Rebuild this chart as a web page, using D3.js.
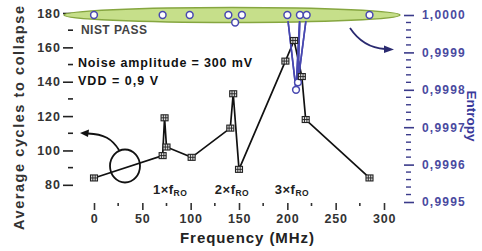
<!DOCTYPE html>
<html><head><meta charset="utf-8">
<script src="https://cdn.jsdelivr.net/npm/d3@7"></script>
<style>
html,body{margin:0;padding:0;background:#fff;}
svg{display:block;font-family:Arial,"Liberation Sans",sans-serif;font-weight:bold;}
</style></head>
<body>
<svg id="chart" width="482" height="251"></svg>
<script>
// ---- data ----
const freqCycles = [0, 71, 73, 75, 101, 141, 144, 150, 198, 207, 215, 219, 285];
const avgCycles  = [84, 97, 119, 102, 96, 113, 133, 89, 152, 164, 143, 118, 84];
const freqEntropy = [0, 71, 99, 139, 146, 153, 200, 209, 213, 211, 220, 285];
const entropy     = [1.0, 1.0, 1.0, 1.0, 0.99998, 1.0, 1.0, 0.99980, 1.0, 0.99982, 1.0, 1.0];
const xTicks = [0, 50, 100, 150, 200, 250, 300];
const yLeftTicks = [80, 100, 120, 140, 160, 180];
const yRightTicks = [0.9995, 0.9996, 0.9997, 0.9998, 0.9999, 1.0];
const harmonicLabels = ["1×f", "2×f", "3×f"];
const harmonicFreq = [61, 125, 187];

const svg = d3.select("#chart");
const x = d3.scaleLinear().domain([0, 300]).range([94, 384]);
const yL = d3.scaleLinear().domain([70, 180]).range([202, 13]);
const yR = d3.scaleLinear().domain([0.9995, 1.0]).range([202, 15]);

// ---- left axis ----
const gL = svg.append("g").attr("transform", "translate(73,0)");
gL.call(d3.axisLeft(yL).tickValues(yLeftTicks).tickSize(10).tickPadding(2).tickFormat(d3.format("d")));
gL.select(".domain").remove();
gL.selectAll(".tick line").attr("stroke", "#222").attr("stroke-width", 1.6);
gL.selectAll(".tick text").attr("font-size", 12.5).attr("fill", "#333")
  .attr("font-family", "Arial,'Liberation Sans',sans-serif").attr("font-weight", "bold")
  .attr("letter-spacing", 1);
gL.selectAll(".minor").data(d3.range(90, 180, 20)).enter().append("line")
  .attr("x1", -5).attr("x2", 0).attr("y1", d => yL(d)).attr("y2", d => yL(d))
  .attr("stroke", "#222").attr("stroke-width", 1.6);

// ---- right axis ----
const gR = svg.append("g").attr("transform", "translate(404,0)");
gR.call(d3.axisRight(yR).tickValues(yRightTicks).tickSize(10).tickPadding(8).tickFormat(d => d3.format(".4f")(d).replace(".", ",")));
gR.select(".domain").remove();
gR.selectAll(".tick line").attr("stroke", "#3a3a8a").attr("stroke-width", 1.6);
gR.selectAll(".tick text").attr("font-size", 12).attr("fill", "#4a4aa0")
  .attr("font-family", "Arial,'Liberation Sans',sans-serif").attr("font-weight", "bold")
  .attr("letter-spacing", 1.2);
const rMinor = [];
for (let i = 0; i < 5; i++) for (let j = 1; j < 5; j++) rMinor.push(0.9995 + i * 0.0001 + j * 0.00002);
gR.selectAll(".minor").data(rMinor).enter().append("line")
  .attr("x1", 2).attr("x2", 7).attr("y1", d => yR(d)).attr("y2", d => yR(d))
  .attr("stroke", "#3a3a8a").attr("stroke-width", 1.4);

// ---- x axis ----
const gX = svg.append("g").attr("transform", "translate(0,203)");
gX.call(d3.axisBottom(x).tickValues(xTicks).tickSize(7).tickPadding(4).tickFormat(d3.format("d")));
gX.select(".domain").remove();
gX.selectAll(".tick line").attr("stroke", "#333").attr("stroke-width", 1.6);
gX.selectAll(".tick text").attr("font-size", 12.5).attr("fill", "#333")
  .attr("font-family", "Arial,'Liberation Sans',sans-serif").attr("font-weight", "bold")
  .attr("letter-spacing", 0.8);
gX.selectAll(".minor").data(d3.range(25, 300, 50)).enter().append("line")
  .attr("x1", d => x(d)).attr("x2", d => x(d)).attr("y1", 0).attr("y2", 3)
  .attr("stroke", "#333").attr("stroke-width", 1.6);

// ---- axis titles ----
svg.append("text").attr("x", 247).attr("y", 243).attr("text-anchor", "middle")
  .attr("font-size", 15).attr("fill", "#222").attr("textLength", 134).text("Frequency (MHz)");
svg.append("text").attr("transform", "translate(24,118) rotate(-90)").attr("text-anchor", "middle")
  .attr("font-size", 14.5).attr("fill", "#333").attr("textLength", 224).text("Average cycles to collapse");
svg.append("text").attr("transform", "translate(467,116) rotate(90)").attr("text-anchor", "middle")
  .attr("font-size", 13.5).attr("fill", "#3a3a9a").text("Entropy");

// ---- black series ----
const cyc = freqCycles.map((f, i) => [f, avgCycles[i]]);
const lineL = d3.line().x(d => x(d[0])).y(d => yL(d[1]));
svg.append("path").datum(cyc).attr("d", lineL).attr("fill", "none")
  .attr("stroke", "#111").attr("stroke-width", 1.7);

// ---- blue series line ----
const ent = freqEntropy.map((f, i) => [f, entropy[i]]);
const lineR = d3.line().x(d => x(d[0])).y(d => yR(d[1]));
svg.append("path").datum(ent).attr("d", lineR).attr("fill", "none")
  .attr("stroke", "#4848b0").attr("stroke-width", 1.6);

// ---- green ellipse ----
svg.append("ellipse").attr("cx", 232).attr("cy", 15).attr("rx", 168).attr("ry", 7.5)
  .attr("fill", "#c6df8a").attr("stroke", "#86a640").attr("stroke-width", 1.5);

// blue dip segments visible again below ellipse
svg.append("clipPath").attr("id", "below").append("rect").attr("x", 0).attr("y", 21).attr("width", 482).attr("height", 230);
svg.append("path").datum(ent).attr("d", lineR).attr("fill", "none")
  .attr("stroke", "#4848b0").attr("stroke-width", 1.6).attr("clip-path", "url(#below)");

// blue markers
svg.selectAll(".ent").data(ent).enter().append("circle")
  .attr("cx", d => x(d[0])).attr("cy", d => yR(d[1])).attr("r", 3.4)
  .attr("fill", "#fff").attr("stroke", "#4848b0").attr("stroke-width", 1.5);

// black markers (hatched squares)
const mk = svg.selectAll(".cyc").data(cyc).enter().append("g")
  .attr("transform", d => `translate(${x(d[0])},${yL(d[1])})`);
mk.append("rect").attr("x", -3.5).attr("y", -3).attr("width", 7).attr("height", 6)
  .attr("fill", "#ddd").attr("stroke", "#222").attr("stroke-width", 1.1);
mk.append("path").attr("d", "M-3.5,0H3.5M-1.2,-3V3M1.2,-3V3").attr("stroke", "#222").attr("stroke-width", 0.9);

// ---- annotations ----
svg.append("text").attr("x", 81).attr("y", 34).attr("font-size", 12).attr("fill", "#444")
  .attr("textLength", 66).text("NIST PASS");
svg.append("text").attr("x", 78).attr("y", 67).attr("font-size", 12.5).attr("fill", "#111")
  .attr("textLength", 174).text("Noise amplitude = 300 mV");
svg.append("text").attr("x", 78).attr("y", 85).attr("font-size", 12.5).attr("fill", "#111")
  .attr("textLength", 80).text("VDD = 0,9 V");

harmonicLabels.forEach((t, i) => {
  const tx = svg.append("text").attr("x", x(harmonicFreq[i])).attr("y", 194)
    .attr("font-size", 13).attr("fill", "#222").attr("letter-spacing", 0.5);
  tx.append("tspan").text(t);
  tx.append("tspan").attr("font-size", 8.5).attr("dy", 2).text("RO");
});

// circle annotation + black arrow
svg.append("ellipse").attr("cx", 125).attr("cy", 166).attr("rx", 15).attr("ry", 16.5)
  .attr("fill", "none").attr("stroke", "#111").attr("stroke-width", 1.8);
svg.append("path").attr("d", "M119,150 C112,139 104,134 88,133.5").attr("fill", "none")
  .attr("stroke", "#111").attr("stroke-width", 1.8);
svg.append("path").attr("d", "M80,133 L89,129.5 L88,137 Z").attr("fill", "#111");

// blue arrow
svg.append("path").attr("d", "M350,28 C358,40 368,48 385,49").attr("fill", "none")
  .attr("stroke", "#2a2a70").attr("stroke-width", 1.8);
svg.append("path").attr("d", "M394,49.5 L384,45.5 L384,53 Z").attr("fill", "#2a2a70");
</script>
</body></html>
